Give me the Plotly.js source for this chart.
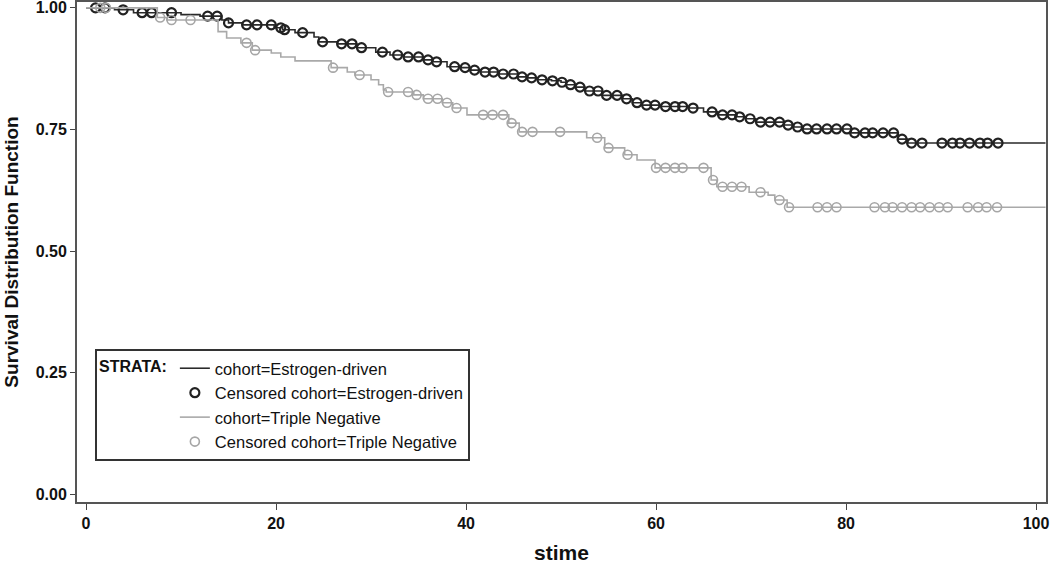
<!DOCTYPE html>
<html>
<head>
<meta charset="utf-8">
<script src="https://cdn.plot.ly/plotly-3.0.1.min.js"></script>
<style>
  html, body { margin: 0; padding: 0; background: #fff; }
  #km { width: 1050px; height: 568px; }
</style>
</head>
<body>
<div id="km"></div>
<script>
// Kaplan-Meier step values
var erTimes = [0, 3, 5, 10, 12, 14.3, 15, 16.5, 19.8, 20.7, 22, 24, 24.5, 26.5, 28.5, 30.5, 32, 33.5, 35.5, 36.5, 38, 39.5, 40.5, 41.5, 43.5, 45.5, 46.5, 47.5, 49, 50, 50.5, 51.5, 52.5, 54.3, 56.5, 57.5, 58.5, 60.5, 63.5, 65, 66.5, 68.5, 69.5, 70.5, 73.5, 74.5, 75.5, 80.5, 85.5, 86.5];
var erSurv = [1.0, 0.996, 0.990, 0.986, 0.983, 0.975, 0.969, 0.965, 0.959, 0.955, 0.949, 0.940, 0.930, 0.926, 0.918, 0.909, 0.903, 0.899, 0.893, 0.889, 0.879, 0.877, 0.872, 0.868, 0.864, 0.858, 0.856, 0.852, 0.850, 0.847, 0.842, 0.837, 0.829, 0.820, 0.813, 0.805, 0.800, 0.797, 0.794, 0.786, 0.780, 0.776, 0.772, 0.765, 0.759, 0.755, 0.751, 0.743, 0.730, 0.722];
var erCensored = [1, 2, 3.9, 5.9, 6.9, 9, 12.8, 13.8, 15, 16.9, 18, 19.5, 20.5, 20.9, 22.8, 24.9, 26.9, 28, 29, 31.2, 32.8, 33.9, 35, 36, 36.9, 38.8, 39.9, 40.9, 42, 42.9, 43.9, 45, 45.9, 46.9, 48, 49.1, 50.1, 51, 52, 53, 53.9, 54.8, 55.9, 56.9, 58, 59, 59.9, 61, 62, 62.8, 63.9, 65.9, 67, 68, 68.8, 69.9, 71, 72, 73, 73.9, 74.9, 75.9, 76.9, 78, 79, 80.1, 80.9, 82, 82.8, 83.9, 85, 85.9, 86.9, 88, 90.1, 91.2, 92, 93, 94.1, 94.9, 96];

var tnTimes = [0, 7.5, 8.5, 13.9, 14.8, 16.3, 17.5, 19.5, 20.5, 22, 25.8, 27.5, 28.3, 30, 30.8, 31.3, 31.6, 34.5, 35.5, 37.5, 38.6, 40.1, 44.5, 45.6, 52.7, 54.6, 56.7, 58, 59.9, 65.8, 66.4, 69.8, 71.8, 72.5, 73.8];
var tnSurv = [1.0, 0.980, 0.975, 0.951, 0.938, 0.928, 0.913, 0.907, 0.899, 0.891, 0.877, 0.868, 0.862, 0.852, 0.842, 0.831, 0.827, 0.821, 0.813, 0.805, 0.794, 0.780, 0.763, 0.745, 0.733, 0.712, 0.698, 0.687, 0.671, 0.646, 0.632, 0.621, 0.615, 0.605, 0.590];
var tnCensored = [1.5, 2.1, 7.8, 9, 11, 16.9, 17.8, 26, 28.8, 31.8, 33.9, 34.8, 36, 37, 38, 39, 41.8, 42.8, 43.9, 44.8, 45.9, 47, 49.9, 53.8, 55, 57, 60, 61, 62, 62.8, 65, 66, 67, 68, 69, 71, 73, 74, 77, 78, 79, 83, 84.1, 84.9, 85.9, 86.9, 87.8, 88.8, 89.8, 90.7, 92.8, 93.9, 94.8, 95.9];

var lastTime = 101;

function survAt(times, surv, t) {
  var s = surv[0];
  for (var i = 0; i < times.length; i++) {
    if (times[i] <= t) s = surv[i];
  }
  return s;
}

function stepTrace(times, surv, name, color) {
  return {
    x: times.concat([lastTime]),
    y: surv.concat([surv[surv.length - 1]]),
    mode: 'lines',
    line: {shape: 'hv', color: color, width: 1.6},
    name: name,
    hoverinfo: 'skip'
  };
}

function censorTrace(times, surv, cens, name, color, lw) {
  return {
    x: cens,
    y: cens.map(function (t) { return survAt(times, surv, t); }),
    mode: 'markers',
    marker: {symbol: 'circle-open', size: 9, color: color, line: {width: lw, color: color}},
    name: name
  };
}

var data = [
  stepTrace(erTimes, erSurv, 'cohort=Estrogen-driven', '#2a2a2a'),
  censorTrace(erTimes, erSurv, erCensored, 'Censored cohort=Estrogen-driven', '#222222', 2.2),
  stepTrace(tnTimes, tnSurv, 'cohort=Triple Negative', '#a9a9a9'),
  censorTrace(tnTimes, tnSurv, tnCensored, 'Censored cohort=Triple Negative', '#a6a6a6', 1.6)
];

var layout = {
  width: 1050,
  height: 568,
  margin: {l: 77, r: 4, t: 2, b: 66},
  paper_bgcolor: '#fff',
  plot_bgcolor: '#fff',
  font: {family: 'Liberation Sans, Arial, sans-serif', color: '#111'},
  showlegend: true,
  legend: {
    x: 0.0186, y: 0.306, xanchor: 'left', yanchor: 'top',
    bordercolor: '#333', borderwidth: 2, bgcolor: '#fff',
    title: {text: '<b>STRATA:</b>', side: 'left', font: {size: 16, color: '#111'}},
    font: {size: 16.5, color: '#111'},
    traceorder: 'normal',
    tracegroupgap: 0
  },
  xaxis: {
    range: [-0.95, 101.05],
    tickvals: [0, 20, 40, 60, 80, 100],
    ticks: 'outside', ticklen: 6, tickcolor: '#444',
    ticklabeloverflow: 'allow',
    showgrid: false, zeroline: false,
    showline: true, linecolor: '#555', linewidth: 2, mirror: true,
    tickfont: {family: 'Liberation Sans Narrow, Liberation Sans, Arial', size: 16, weight: 'bold'},
    title: {text: '<b>stime</b>', font: {size: 21}, standoff: 14}
  },
  yaxis: {
    range: [-0.016, 1.012],
    tickvals: [0, 0.25, 0.5, 0.75, 1.0],
    tickformat: '.2f',
    ticks: 'outside', ticklen: 5, tickcolor: '#444',
    ticklabeloverflow: 'allow',
    showgrid: false, zeroline: false,
    showline: true, linecolor: '#555', linewidth: 2, mirror: true,
    tickfont: {family: 'Liberation Sans Narrow, Liberation Sans, Arial', size: 16, weight: 'bold'},
    title: {text: '<b>Survival Distribution Function</b>', font: {size: 19}, standoff: 12}
  }
};

Plotly.newPlot('km', data, layout, {displayModeBar: false, responsive: false});
</script>
</body>
</html>
